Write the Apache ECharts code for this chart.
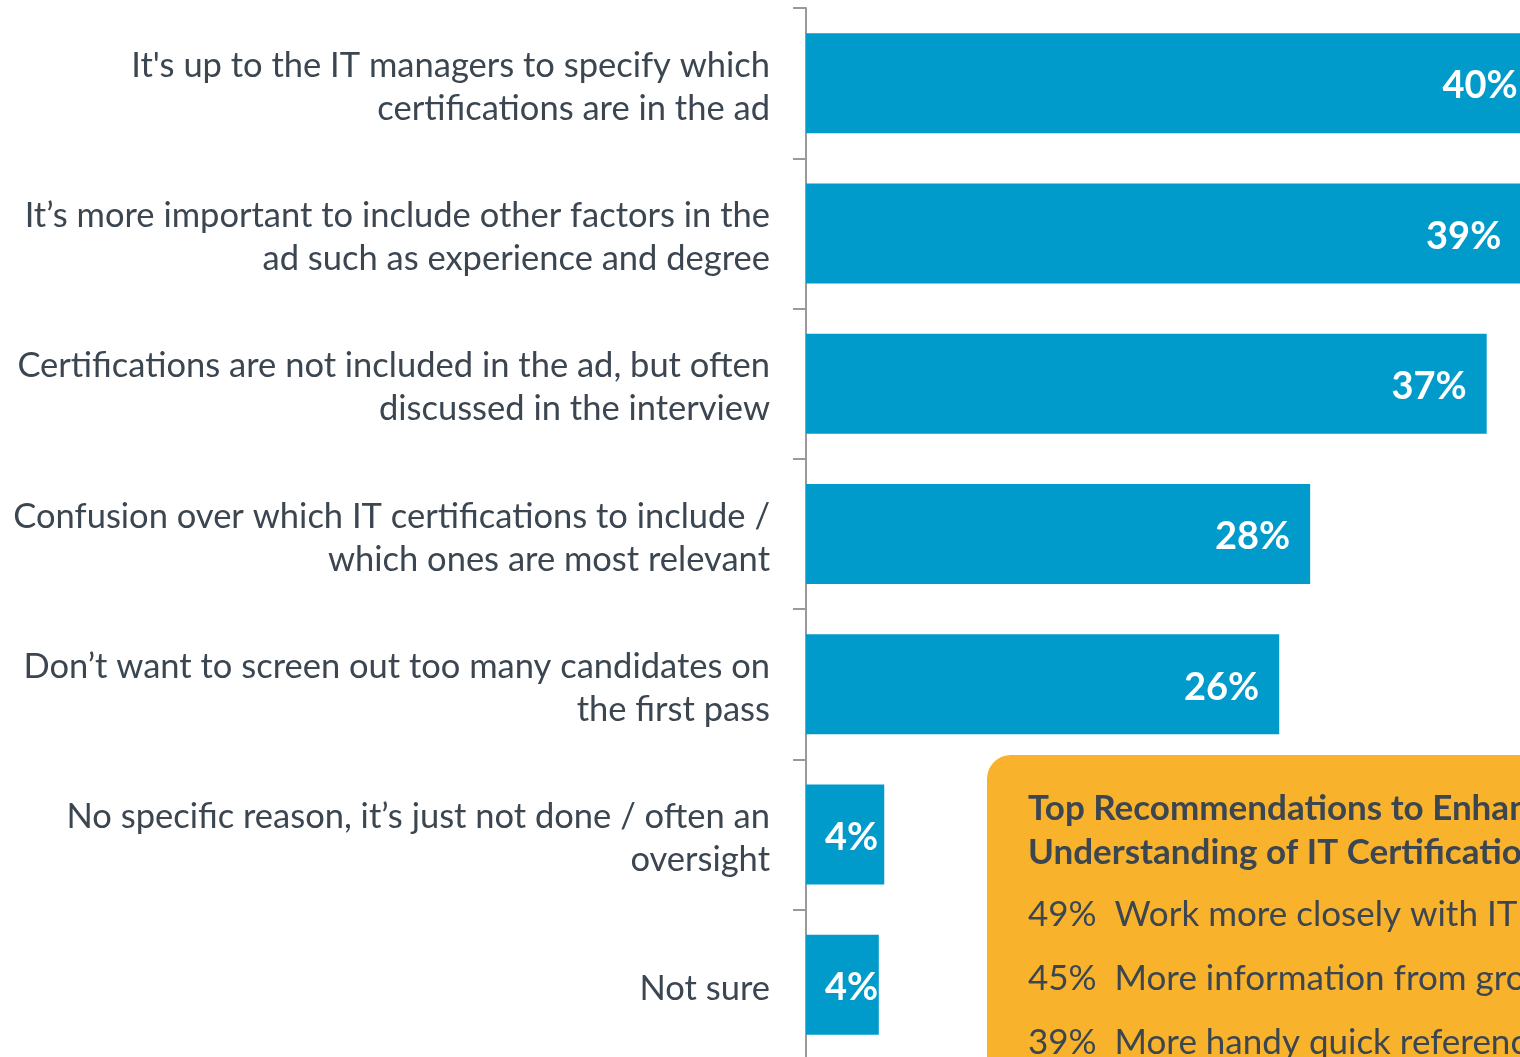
<!DOCTYPE html>
<html>
<head>
    <meta charset="utf-8">
    <style>
        html, body { margin: 0; padding: 0; background: #fff; overflow: hidden; }
        /* taller than the window: the chart runs off the bottom edge like the original */
        #main { width: 1520px; height: 1080px; }
    </style>
    <script src="https://cdn.jsdelivr.net/npm/echarts@6/dist/echarts.min.js"></script>
</head>
<body>
<div id="main"></div>
<script type="text/javascript">
    var reasons = [
        "It's up to the IT managers to specify which\ncertifications are in the ad",
        "It\u2019s more important to include other factors in the\nad such as experience and degree",
        "Certifications are not included in the ad, but often\ndiscussed in the interview",
        "Confusion over which IT certifications to include /\nwhich ones are most relevant",
        "Don\u2019t want to screen out too many candidates on\nthe first pass",
        "No specific reason, it\u2019s just not done / often an\noversight",
        "Not sure"
    ];
    var shares = [40.2, 39.3, 37.4, 27.7, 26.0, 4.3, 4.0];
    var shareLabels = ['40%', '39%', '37%', '28%', '26%', '4%', '4%'];

    var boxTitle = ['Top Recommendations to Enhance', 'Understanding of IT Certifications'];
    var boxPct = ['49%', '45%', '39%'];
    var boxItems = ['Work more closely with IT managers', 'More information from groups', 'More handy quick reference guides'];

    var textColor = '#3b4651';
    var font = 'Lato';

    var chart = echarts.init(document.getElementById('main'));

    // small bars: label sits from the left edge, like the original
    var barData = shares.map(function (v, i) {
        var item = { value: v, labelText: shareLabels[i] };
        if (v < 10) {
            item.label = { position: 'insideLeft', distance: 19 };
        }
        return item;
    });

    var graphics = [{
        type: 'rect',
        shape: { x: 987, y: 755, width: 700, height: 400, r: 24 },
        style: { fill: '#f9b22b' },
        z: 10
    }];
    boxTitle.forEach(function (t, i) {
        graphics.push({
            type: 'text', x: 1028, y: 809 + i * 44, z: 11,
            style: { text: t, fill: textColor, font: 'bold 35px ' + font, textVerticalAlign: 'middle' }
        });
    });
    boxItems.forEach(function (t, i) {
        graphics.push({
            type: 'text', x: 1028, y: 915 + i * 64, z: 11,
            style: { text: boxPct[i] + '  ' + t, fill: textColor, font: '35px ' + font, textVerticalAlign: 'middle' }
        });
    });

    chart.setOption({
        animation: false,
        grid: [
            { left: 806, top: 8, right: 0, height: 1052 },
            // same layout a few px lower, only used for the category texts
            { left: 806, top: 12, right: 0, height: 1052 }
        ],
        xAxis: [
            { type: 'value', min: 0, max: 39.23, show: false },
            { type: 'value', min: 0, max: 39.23, show: false, gridIndex: 1 }
        ],
        yAxis: [{
            type: 'category',
            inverse: true,
            data: reasons,
            axisLine: { show: true, lineStyle: { color: '#9a9a9a', width: 2 } },
            axisTick: { show: true, alignWithLabel: false, length: 13, lineStyle: { color: '#9a9a9a', width: 2 } },
            axisLabel: { show: false }
        }, {
            type: 'category',
            gridIndex: 1,
            inverse: true,
            data: reasons,
            axisLine: { show: false },
            axisTick: { show: false },
            axisLabel: {
                margin: 36, color: textColor, fontFamily: font, fontSize: 34.5,
                lineHeight: 43, align: 'right'
            }
        }],
        series: [{
            type: 'bar',
            data: barData,
            barWidth: 100,
            clip: false,
            itemStyle: { color: '#009bcb' },
            label: {
                show: true, position: 'insideRight', distance: 20, offset: [0, 3],
                color: '#fff', fontFamily: font, fontWeight: 'bold', fontSize: 38,
                formatter: function (p) { return p.data.labelText; }
            }
        }],
        graphic: graphics
    });
</script>
</body>
</html>
